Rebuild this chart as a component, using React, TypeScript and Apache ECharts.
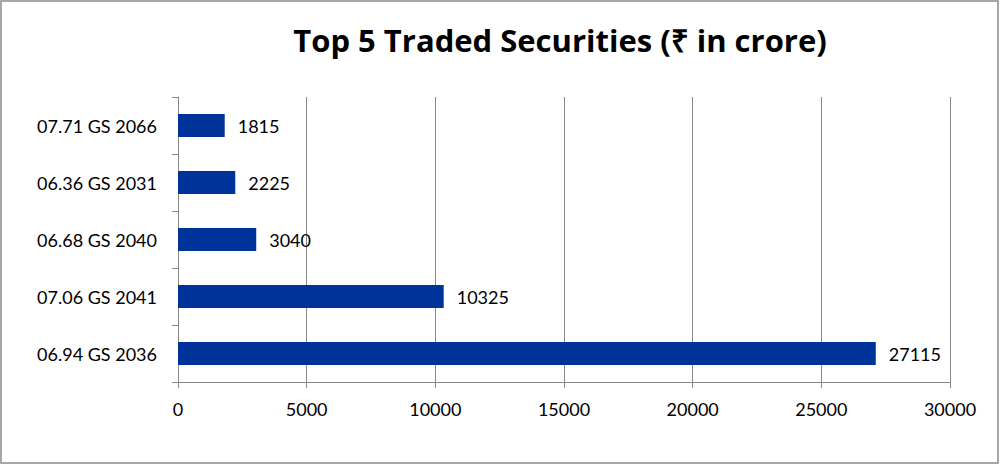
import React, { useEffect, useRef } from "react";
import * as echarts from "echarts";

const categories = ["07.71 GS 2066", "06.36 GS 2031", "06.68 GS 2040", "07.06 GS 2041", "06.94 GS 2036"];
const values = [1815, 2225, 3040, 10325, 27115];
const xTicks = { min: 0, max: 30000, interval: 5000 };
const titleText = "Top 5 Traded Securities (₹ in crore)";

export default function App() {
  const ref = useRef<HTMLDivElement>(null);
  useEffect(() => {
    if (!ref.current) return;
    const chart = echarts.init(ref.current, null, { renderer: "svg" });
    const font = "Lato";
    chart.setOption({
      animation: false,
      backgroundColor: "#ffffff",
      title: {
        text: titleText,
        left: 555,
        textAlign: "center",
        top: 19,
        textStyle: { fontFamily: "Open Sans", fontWeight: "bold", fontSize: 31, color: "#000" },
      },
      graphic: [
        {
          type: "rect",
          shape: { x: 1, y: 1, width: 997, height: 462 },
          style: { fill: "none", stroke: "#898989", lineWidth: 1.5 },
          silent: true,
        },
      ],
      grid: { left: 178, right: 50, top: 97, bottom: 83, containLabel: false },
      xAxis: {
        type: "value",
        min: xTicks.min,
        max: xTicks.max,
        interval: xTicks.interval,
        axisLine: { show: true, lineStyle: { color: "#888", width: 1 } },
        axisTick: { show: true, length: 6, lineStyle: { color: "#888" } },
        splitLine: { show: true, lineStyle: { color: "#888", width: 1 } },
        axisLabel: {
          fontFamily: font,
          fontSize: 18,
          color: "#000",
          margin: 18,
          formatter: (v: number) => String(v),
        },
      },
      yAxis: {
        type: "category",
        data: categories,
        inverse: true,
        axisLine: { show: true, lineStyle: { color: "#888", width: 1 } },
        axisTick: { show: true, length: 6, lineStyle: { color: "#888" } },
        axisLabel: { fontFamily: font, fontSize: 18, color: "#000", margin: 21 },
      },
      series: [
        {
          type: "bar",
          data: values,
          barCategoryGap: "60%",
          itemStyle: { color: "#003399" },
          label: {
            show: true,
            position: "right",
            distance: 13,
            fontFamily: font,
            fontSize: 18,
            color: "#000",
          },
        },
      ],
    });
    return () => chart.dispose();
  }, []);
  return (
    <div
      ref={ref}
      style={{ position: "fixed", left: 0, top: 0, width: 1000, height: 465 }}
    />
  );
}
